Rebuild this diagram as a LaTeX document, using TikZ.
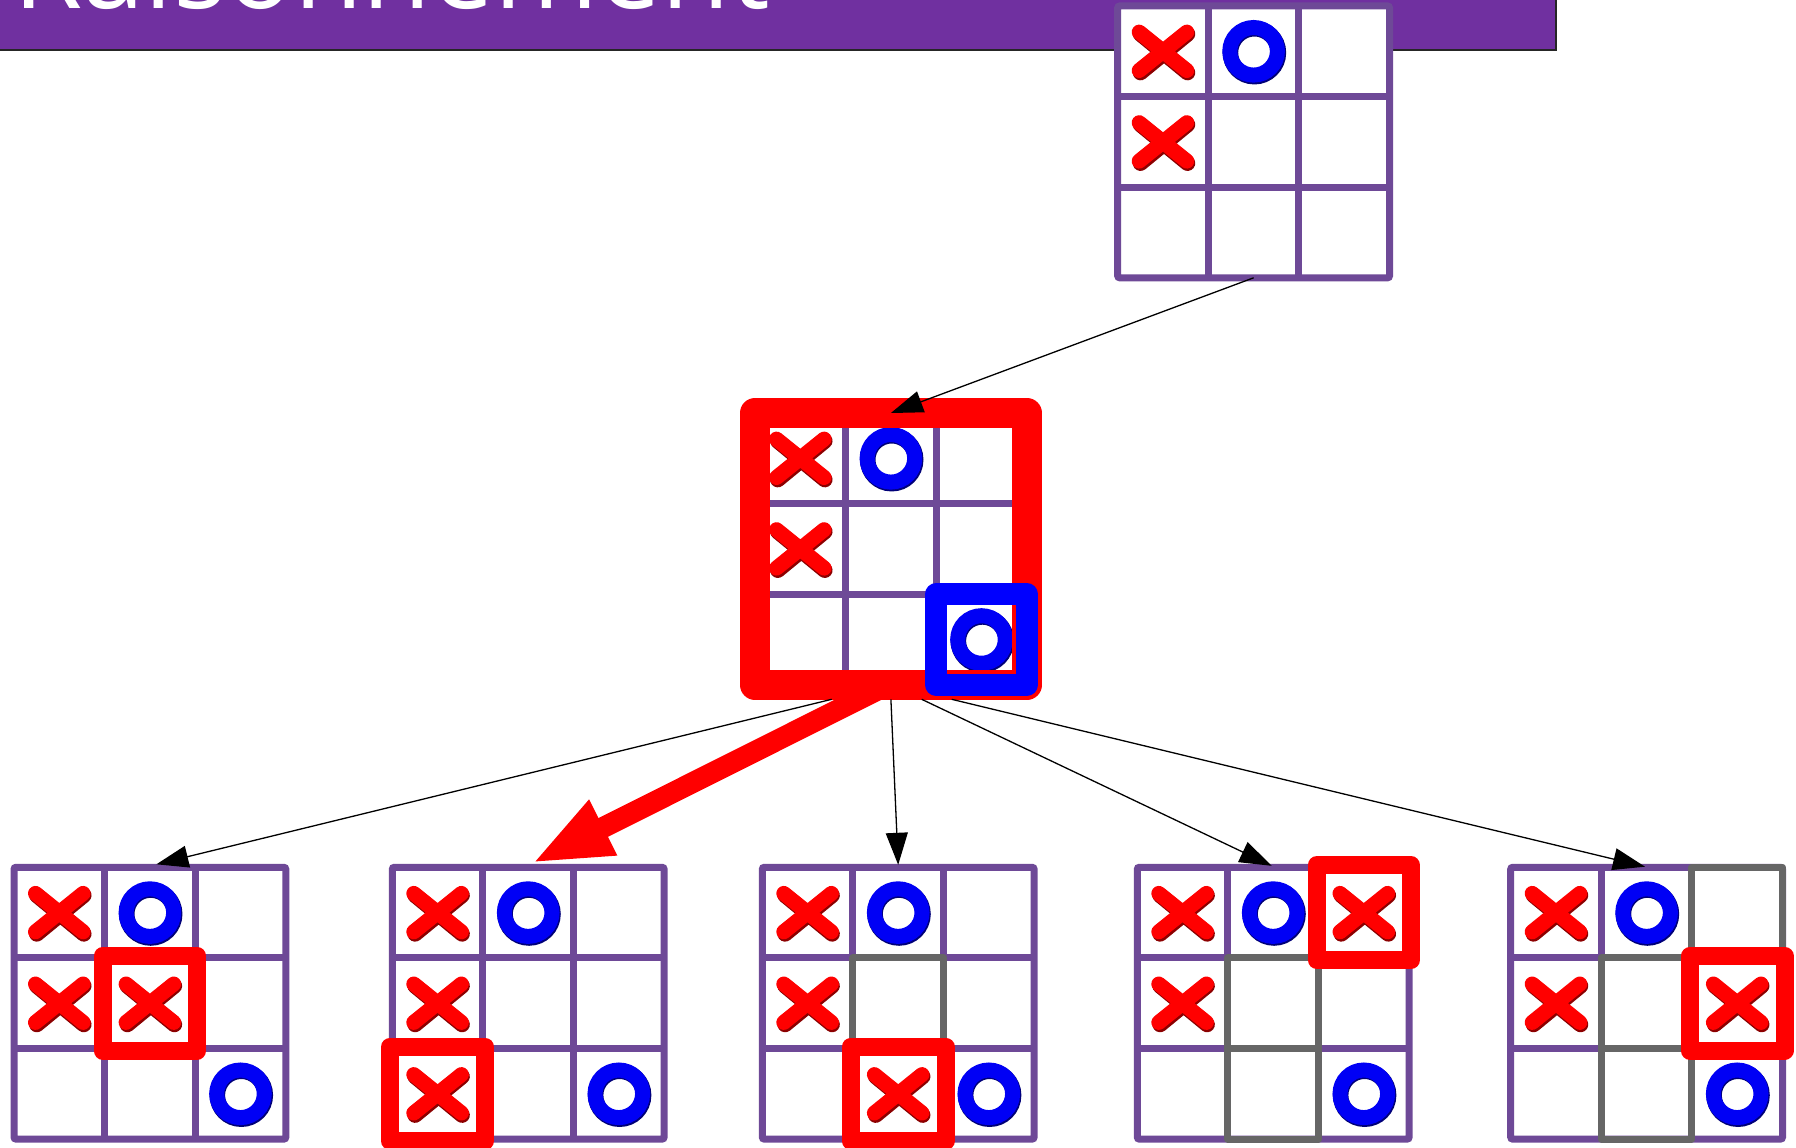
\documentclass[tikz,border=0pt]{standalone}
\usepackage{fontspec}
\setsansfont{Open Sans}
\usetikzlibrary{arrows.meta,calc}
\definecolor{barpurple}{RGB}{112,48,160}
\definecolor{gridpurple}{RGB}{110,73,151}
\definecolor{xred}{RGB}{255,0,0}
\definecolor{xdark}{RGB}{140,0,0}
\definecolor{oblue}{RGB}{0,0,245}
\definecolor{odark}{RGB}{0,0,120}
\definecolor{cellgrey}{RGB}{102,102,102}
\tikzset{
  boardbox/.style={rectangle, draw=gridpurple, line width=7pt, fill=white,
    minimum width=271.8pt, minimum height=271.8pt, inner sep=0pt, outer sep=0pt,
    rounded corners=2pt},
  gridline/.style={draw=gridpurple, line width=7pt},
  greyline/.style={draw=cellgrey, line width=7pt, line join=round},
  redmark/.style={draw=xred, line width=18pt, line join=round},
  bigred/.style={draw=xred, line width=30pt, line join=round},
  bluemark/.style={draw=blue, line width=22pt, line join=round},
  xshade/.style={draw=xdark, line width=15.5pt, line cap=round},
  xmark/.style={draw=xred, line width=15pt, line cap=round},
  oshade/.style={draw=odark, line width=15.5pt},
  omark/.style={draw=oblue, line width=15pt},
  conn/.style={draw=black, line width=1.3pt, -{Triangle[length=32pt,width=22pt]}},
  bigconn/.style={draw=xred, line width=21pt, -{Triangle[length=80pt,width=56pt]}},
  titletext/.style={anchor=base west, inner sep=0pt, text=white,
    font=\sffamily\fontsize{112}{130}\selectfont},
  barshadow/.style={draw=black!85, line width=1.3pt}
}
\newcommand\board[3]{%
  \node[boardbox] (#1) at ({#2+135.9},{#3+135.9}) {};
  \draw[gridline]
    ($(#1.north west)!1/3!(#1.north east)$) -- ($(#1.south west)!1/3!(#1.south east)$)
    ($(#1.north west)!2/3!(#1.north east)$) -- ($(#1.south west)!2/3!(#1.south east)$)
    ($(#1.north west)!1/3!(#1.south west)$) -- ($(#1.north east)!1/3!(#1.south east)$)
    ($(#1.north west)!2/3!(#1.south west)$) -- ($(#1.north east)!2/3!(#1.south east)$);
}
\newcommand\putX[3]{%
  \begin{scope}[shift={($(#1.north west)+({(#3-0.5)*90.6},{(#2-0.5)*90.6})$)}]
    \draw[xshade] (-22.5,-17.3) -- (24.5,21.3) (-22.5,21.3) -- (24.5,-17.3);
    \draw[xmark] (-23.8,-19.2) -- (23.8,19.2) (-23.8,19.2) -- (23.8,-19.2);
  \end{scope}}
\newcommand\putO[3]{%
  \begin{scope}[shift={($(#1.north west)+({(#3-0.5)*90.6},{(#2-0.5)*90.6})$)}]
    \draw[oshade] (0.8,1.4) circle[radius=24];
    \draw[omark] (0,0) circle[radius=23.8];
  \end{scope}}
\newcommand\greycell[3]{%
  \draw[greyline] ($(#1.north west)+({(#3-1)*90.6},{(#2-1)*90.6})$) rectangle ++(90.6,90.6);}
\newcommand\redcell[3]{%
  \draw[redmark] ($(#1.north west)+({(#3-1)*90.6-2},{(#2-1)*90.6-2})$) rectangle ++(94.6,94.6);}
\begin{document}
\begin{tikzpicture}[x=1pt,y=-1pt]
\useasboundingbox (0,0) rectangle (1796,1148);
% title bar
\fill[barpurple] (0,0) rectangle (1556,50);
\draw[barshadow] (0,50) -- (1556,50) -- (1556,0);
\node[titletext] (title) at (13,9) {Raisonnement};

% top board
\board{top}{1117.7}{6}
\putX{top}{1}{1} \putO{top}{1}{2} \putX{top}{2}{1}

% middle board
\board{mid}{755}{413}
\putX{mid}{1}{1} \putO{mid}{1}{2} \putX{mid}{2}{1} \putO{mid}{3}{3}
\draw[bigred] (mid.north west) rectangle (mid.south east);
\draw[bluemark] ($(mid.north west)+(181.2,181.2)$) rectangle (mid.south east);

% bottom boards
\board{b1}{14}{867.3}
\putX{b1}{1}{1} \putO{b1}{1}{2} \putX{b1}{2}{1} \putX{b1}{2}{2} \putO{b1}{3}{3}
\redcell{b1}{2}{2}

\board{b2}{392.3}{867.3}
\putX{b2}{1}{1} \putO{b2}{1}{2} \putX{b2}{2}{1} \putX{b2}{3}{1} \putO{b2}{3}{3}
\redcell{b2}{3}{1}

\board{b3}{762.3}{867.3}
\greycell{b3}{2}{2}
\putX{b3}{1}{1} \putO{b3}{1}{2} \putX{b3}{2}{1} \putX{b3}{3}{2} \putO{b3}{3}{3}
\redcell{b3}{3}{2}

\board{b4}{1137.3}{867.3}
\greycell{b4}{2}{2} \greycell{b4}{3}{2}
\putX{b4}{1}{1} \putO{b4}{1}{2} \putX{b4}{1}{3} \putX{b4}{2}{1} \putO{b4}{3}{3}
\redcell{b4}{1}{3}

\board{b5}{1510.7}{867.3}
\greycell{b5}{1}{3} \greycell{b5}{2}{2} \greycell{b5}{3}{2}
\putX{b5}{1}{1} \putO{b5}{1}{2} \putX{b5}{2}{1} \putX{b5}{2}{3} \putO{b5}{3}{3}
\redcell{b5}{2}{3}

% connectors
\draw[conn] (top.south) -- (mid.north);
\draw[conn] ($(mid.south)+(-59.2,14.5)$) -- ($(b1.north)+(6.5,-3)$);
\draw[bigconn] ($(mid.south)+(-11,4)$) -- ($(b2.north)+(3.5,-4)$);
\draw[conn] ($(mid.south)+(0,14.5)$) -- ($(b3.north)+(0,-2.5)$);
\draw[conn] ($(mid.south)+(30.8,14.5)$) -- ($(b4.north)+(-1.5,-1.5)$);
\draw[conn] ($(mid.south)+(60.8,14.5)$) -- ($(b5.north)+(-1.6,-0.6)$);
\end{tikzpicture}
\end{document}
